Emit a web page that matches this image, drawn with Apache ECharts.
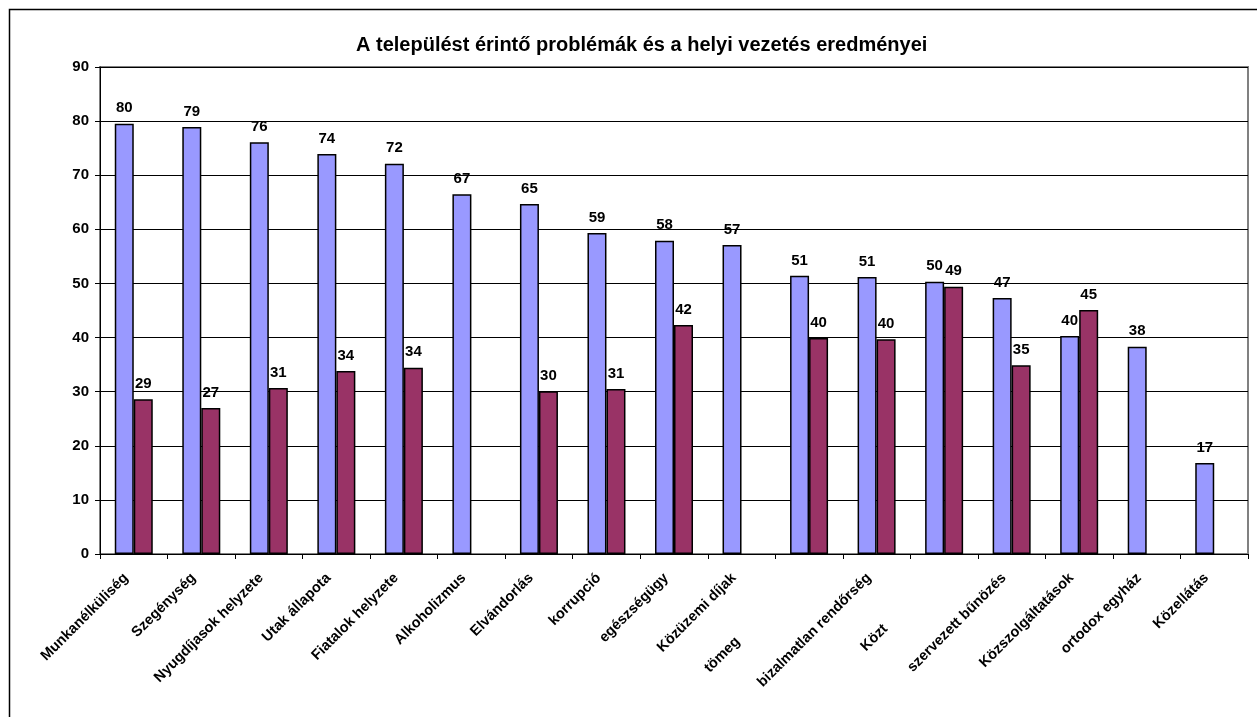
<!DOCTYPE html>
<html lang="hu">
<head>
    <meta charset="UTF-8">
    <title>A települést érintő problémák</title>
    <script type="text/javascript" src="https://cdn.jsdelivr.net/npm/echarts@6/dist/echarts.min.js"></script>
    <style>
        html, body { margin: 0; padding: 0; background: #fff; }
    </style>
</head>
<body>
<div id="main" style="width: 1257px;height:717px;"></div>

<script type="text/javascript">
    // kategoriak (a csonkolt feliratok ugy, ahogy a kepen latszanak)
    var categories = ['Munkanélküliség', 'Szegénység', 'Nyugdíjasok helyzete', 'Utak állapota',
        'Fiatalok helyzete', 'Alkoholizmus', 'Elvándorlás', 'korrupció', 'egészségügy',
        'Közüzemi díjak', 'tömeg', 'bizalmatlan rendőrség', 'Közt', 'szervezett bűnözés',
        'Közszolgáltatások', 'ortodox egyház', 'Közellátás'];
    // elso sor (kek)
    var problemak = [79.5, 78.9, 76.1, 73.9, 72.1, 66.5, 64.7, 59.3, 57.9, 57.1,
        51.4, 51.2, 50.3, 47.3, 40.3, 38.3, 16.8];
    // masodik sor (bordo)
    var eredmenyek = [28.6, 27.0, 30.7, 33.8, 34.4, null, 30.1, 30.5, 42.3, null,
        39.9, 39.7, 49.4, 34.9, 45.1, null, null];
    var yTicks = [0, 10, 20, 30, 40, 50, 60, 70, 80, 90];
    // levagott feliratok eltolasa
    var shifted = {'tömeg': 'a', 'Közt': 'b'};

    var FONT = 'Arial, "Liberation Sans", sans-serif';
    var myChart = echarts.init(document.getElementById('main'));

    var labelStyle = {
        show: true,
        position: 'top',
        distance: 8,
        color: '#000',
        fontFamily: FONT,
        fontWeight: 'bold',
        fontSize: 15,
        formatter: function (p) { return Math.round(p.value); }
    };

    function xl(pad) {
        return {padding: [0, pad, 0, 0], fontWeight: 'bold', fontSize: 14.5, color: '#000', fontFamily: FONT};
    }

    var option = {
        animation: false,
        backgroundColor: '#fff',
        title: {
            text: 'A települést érintő problémák és a helyi vezetés eredményei',
            left: 351,
            top: 30,
            textStyle: {fontFamily: FONT, fontWeight: 'bold', fontSize: 20, color: '#000'}
        },
        graphic: [{
            type: 'rect',
            shape: {x: 9.5, y: 9.5, width: 1400, height: 900},
            style: {fill: null, stroke: '#000', lineWidth: 1.5},
            silent: true
        }],
        grid: {
            left: 100,
            top: 67,
            right: 9,
            bottom: 163,
            show: true,
            borderColor: '#808080',
            borderWidth: 2
        },
        xAxis: {
            type: 'category',
            data: categories,
            axisLine: {lineStyle: {color: '#000', width: 1}},
            axisTick: {show: true, length: 5, lineStyle: {color: '#000'}},
            axisLabel: {
                interval: 0,
                rotate: 45,
                margin: 14,
                color: '#000',
                fontFamily: FONT,
                fontWeight: 'bold',
                fontSize: 14.5,
                formatter: function (v) {
                    return '{' + (shifted[v] || 'n') + '|' + v + '}';
                },
                rich: {
                    n: xl(11),
                    a: xl(101),
                    b: xl(83)
                }
            }
        },
        yAxis: {
            type: 'value',
            min: yTicks[0],
            max: yTicks[yTicks.length - 1],
            interval: 10,
            axisLine: {show: true, lineStyle: {color: '#000', width: 1}},
            axisTick: {show: true, length: 5, lineStyle: {color: '#000'}},
            splitLine: {lineStyle: {color: '#000', width: 1}},
            axisLabel: {
                margin: 11,
                color: '#000',
                fontFamily: FONT,
                fontWeight: 'bold',
                fontSize: 15
            }
        },
        series: [{
            name: 'problémák',
            type: 'bar',
            data: problemak,
            barWidth: 19,
            barGap: '0%',
            itemStyle: {color: '#9999FF', borderColor: '#000', borderWidth: 1.5},
            label: labelStyle
        }, {
            name: 'eredmények',
            type: 'bar',
            data: eredmenyek,
            barWidth: 19,
            itemStyle: {color: '#993366', borderColor: '#000', borderWidth: 1.5},
            label: labelStyle
        }]
    };

    myChart.setOption(option);
</script>
</body>
</html>
